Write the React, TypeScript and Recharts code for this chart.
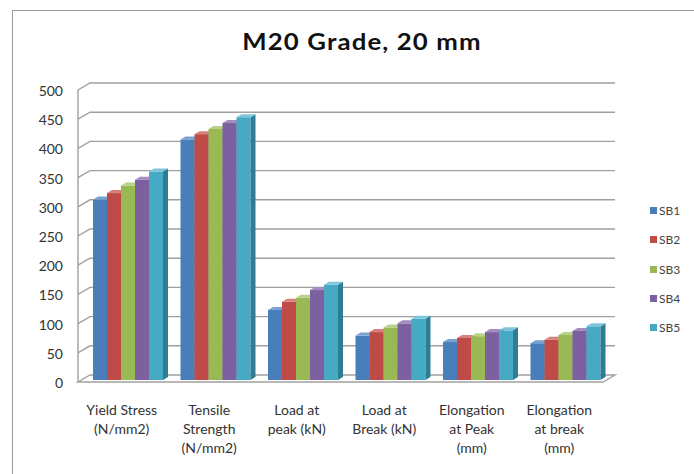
import React from 'react';
import { BarChart, Bar, XAxis, YAxis, CartesianGrid } from 'recharts';

const categories = [
  'Yield Stress\n(N/mm2)',
  'Tensile\nStrength\n(N/mm2)',
  'Load at\npeak (kN)',
  'Load at\nBreak (kN)',
  'Elongation\nat Peak\n(mm)',
  'Elongation\nat break\n(mm)',
];
const sb1 = [309, 412, 120, 76, 65, 63];
const sb2 = [320, 421, 134, 82, 72, 69];
const sb3 = [333, 430, 141, 90, 75, 77];
const sb4 = [343, 440, 154, 97, 82, 84];
const sb5 = [357, 450, 163, 105, 85, 92];
const seriesNames = ['SB1', 'SB2', 'SB3', 'SB4', 'SB5'];
const seriesValues = [sb1, sb2, sb3, sb4, sb5];
const frontColors = ['#4a7ebb', '#be4b48', '#98b954', '#7d60a0', '#46aac5'];
const sideColors = ['#325a89', '#8a3230', '#6d873a', '#584277', '#2f7d92'];
const topColors = ['#7aa2d3', '#d77f7c', '#b9d289', '#a28cc0', '#7fc6da'];
const yTicks = [0, 50, 100, 150, 200, 250, 300, 350, 400, 450, 500];

const data = categories.map((name, i) => {
  const row: Record<string, string | number> = { name };
  seriesNames.forEach((s, k) => {
    row[s] = seriesValues[k][i];
  });
  return row;
});

const FONT = 'Lato, "Open Sans", sans-serif';
const PLOT_BOTTOM = 382;
// back wall offset of the 3D box
const WALL_DX = 12;
const WALL_DY = 7;
// bar depth
const BAR_DX = 5;
const BAR_DY = 3;

function gridLine(props: any) {
  const { x1, x2, y1 } = props;
  if (Math.abs(y1 - PLOT_BOTTOM) < 1) {
    return (
      <path
        key={props.key ?? 'floor'}
        d={`M${x1},${y1} L${x2},${y1} L${x2 + WALL_DX},${y1 - WALL_DY} L${x1 + WALL_DX},${y1 - WALL_DY} Z`}
        fill="#fff"
        stroke="#a0a0a0"
        strokeWidth={1.4}
      />
    );
  }
  return (
    <path
      key={props.key ?? `g${y1}`}
      d={`M${x1},${y1} L${x1 + WALL_DX},${y1 - WALL_DY} L${x2 + WALL_DX},${y1 - WALL_DY}`}
      fill="none"
      stroke="#a0a0a0"
      strokeWidth={1.4}
    />
  );
}

function makeShape(k: number) {
  return (props: any) => {
    const { x, y, width, height } = props;
    if (width == null || height == null) return <g />;
    const fx = x + BAR_DX;
    const fy = y - 2;
    return (
      <g>
        <rect x={fx} y={fy} width={width} height={height} fill={frontColors[k]} />
        <polygon
          points={`${fx + width},${fy} ${fx + width + BAR_DX},${fy - BAR_DY} ${fx + width + BAR_DX},${fy + height - BAR_DY} ${fx + width},${fy + height}`}
          fill={sideColors[k]}
        />
        <polygon
          points={`${fx},${fy} ${fx + BAR_DX},${fy - BAR_DY} ${fx + width + BAR_DX},${fy - BAR_DY} ${fx + width},${fy}`}
          fill={topColors[k]}
        />
      </g>
    );
  };
}

function CategoryTick(props: any) {
  const { x, y, payload } = props;
  const lines = String(payload.value).split('\n');
  return (
    <text x={x} y={y + 25} textAnchor="middle" fontSize={14} fill="#333" fontFamily={FONT}>
      {lines.map((l, i) => (
        <tspan key={i} x={x} dy={i === 0 ? 0 : 19}>
          {l}
        </tspan>
      ))}
    </text>
  );
}

function ValueTick(props: any) {
  const { y, payload } = props;
  return (
    <text x={63} y={y + 6} textAnchor="end" fontSize={14} fill="#333" fontFamily={FONT}>
      {payload.value}
    </text>
  );
}

export default function App() {
  return (
    <div
      style={{
        position: 'absolute',
        left: 0,
        top: 0,
        width: 694,
        height: 474,
        overflow: 'hidden',
        background: '#fff',
        fontFamily: FONT,
      }}
    >
      <div
        style={{
          position: 'absolute',
          left: 12,
          top: 10,
          width: 700,
          height: 500,
          border: '1.5px solid #9a9a9a',
          boxSizing: 'border-box',
        }}
      />
      <div
        style={{
          position: 'absolute',
          left: 0,
          top: 27,
          width: 724,
          textAlign: 'center',
          fontSize: 23,
          fontWeight: 700,
          letterSpacing: 1,
          color: '#111',
          transform: 'scaleX(1.12)',
          transformOrigin: '362px 0',
        }}
      >
        M20 Grade, 20 mm
      </div>
      <div style={{ position: 'absolute', left: 0, top: 0 }}>
        <BarChart
          width={694}
          height={474}
          data={data}
          margin={{ top: 90, right: 91, bottom: 0, left: 0 }}
          barCategoryGap={10}
          barGap={0}
        >
          <CartesianGrid vertical={false} horizontal={gridLine} />
          <XAxis
            dataKey="name"
            axisLine={false}
            tickLine={false}
            height={92}
            interval={0}
            tick={<CategoryTick />}
          />
          <YAxis
            width={78}
            domain={[0, 500]}
            ticks={yTicks}
            axisLine={{ stroke: '#a0a0a0', strokeWidth: 1.4 }}
            tickLine={false}
            tick={<ValueTick />}
          />
          {seriesNames.map((s, k) => (
            <Bar key={s} dataKey={s} fill={frontColors[k]} isAnimationActive={false} shape={makeShape(k)} />
          ))}
        </BarChart>
      </div>
      <div style={{ position: 'absolute', left: 650, top: 196 }}>
        {seriesNames.map((s, k) => (
          <div key={s} style={{ display: 'flex', alignItems: 'center', height: 29.3, fontSize: 12, color: '#444' }}>
            <span style={{ width: 7, height: 7, background: frontColors[k], marginRight: 2, display: 'inline-block' }} />
            {s}
          </div>
        ))}
      </div>
    </div>
  );
}
